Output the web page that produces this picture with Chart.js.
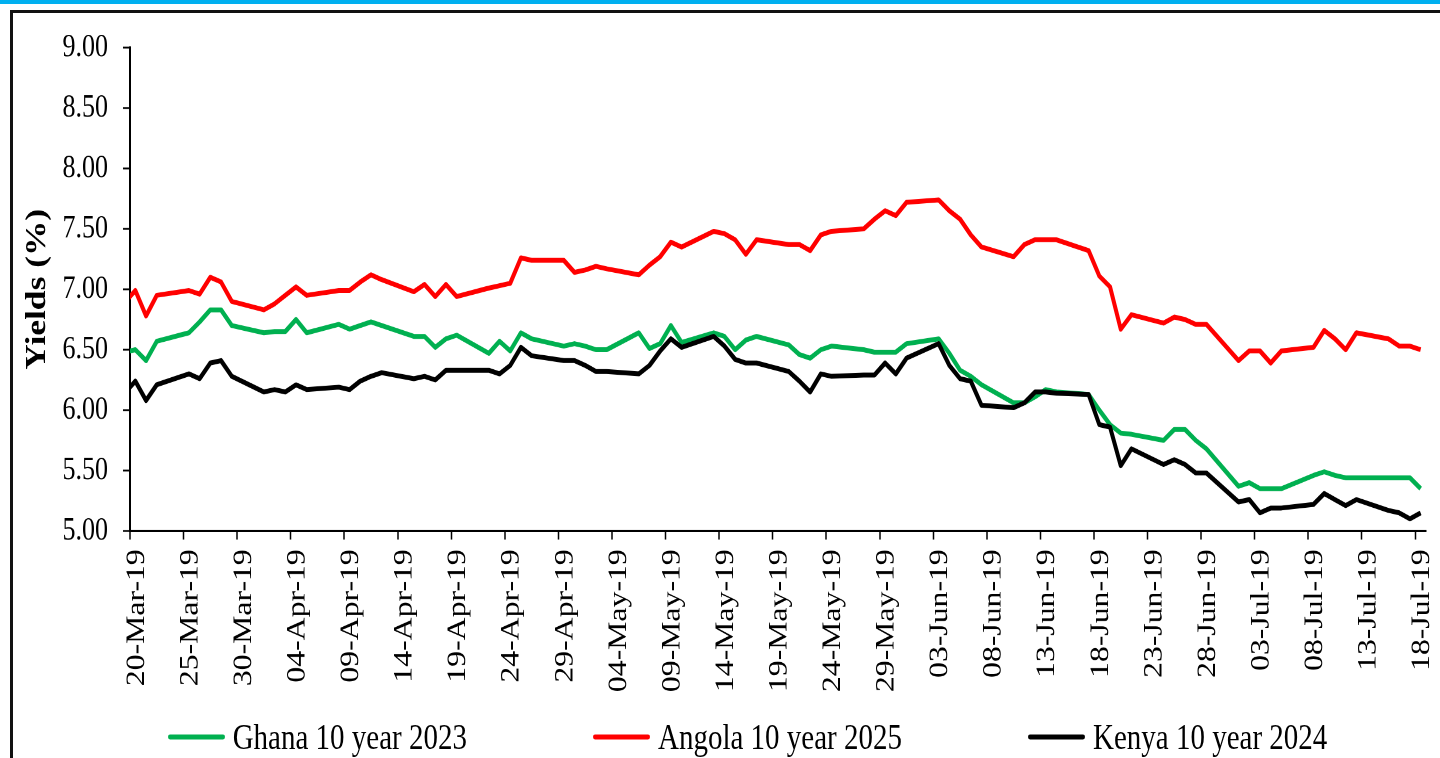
<!DOCTYPE html>
<html>
<head>
<meta charset="utf-8">
<script src="https://cdn.jsdelivr.net/npm/chart.js@4.4.1/dist/chart.umd.min.js"></script>
<style>
  html, body { margin: 0; padding: 0; width: 1440px; height: 758px; overflow: hidden; background: #fff; }
  #topbar { position: absolute; left: 0; top: 0; width: 1440px; height: 4px; background: #00b0f0; }
  #frame { position: absolute; left: 10px; top: 10px; width: 1440px; height: 760px; border-left: 3px solid #111; border-top: 3px solid #111; }
  /* the source picture is stretched vertically, so the chart is drawn short and scaled up */
  #wrap { position: absolute; left: 0; top: 0; width: 1440px; height: 621px; transform: scaleY(1.2206); transform-origin: 0 0; }
  #legend {
    position: absolute; left: 0; top: 721px; width: 1440px; height: 32px; box-sizing: border-box; padding-left: 55px;
    display: flex; justify-content: center; align-items: center; gap: 126px;
    font-family: "Liberation Serif", "Times New Roman", serif; font-size: 29px; line-height: 32px; color: #000;
    transform: scaleY(1.2206); transform-origin: 50% 50%;
  }
  #legend .item { display: flex; align-items: center; white-space: nowrap; }
  #legend .swatch { display: inline-block; width: 57px; height: 4px; border-radius: 2px; margin-right: 8px; }
</style>
</head>
<body>
<div id="topbar"></div>
<div id="frame"></div>
<div id="wrap"><canvas id="chart" width="1440" height="621"></canvas></div>
<div id="legend"></div>
<script>
var dates = [
  '2019-03-19','2019-03-20','2019-03-21','2019-03-22','2019-03-25','2019-03-26','2019-03-27','2019-03-28','2019-03-29',
  '2019-04-01','2019-04-02','2019-04-03','2019-04-04','2019-04-05','2019-04-08','2019-04-09','2019-04-10','2019-04-11','2019-04-12',
  '2019-04-15','2019-04-16','2019-04-17','2019-04-18','2019-04-19','2019-04-22','2019-04-23','2019-04-24','2019-04-25','2019-04-26',
  '2019-04-29','2019-04-30',
  '2019-05-01','2019-05-02','2019-05-03','2019-05-06','2019-05-07','2019-05-08','2019-05-09','2019-05-10','2019-05-13','2019-05-14',
  '2019-05-15','2019-05-16','2019-05-17','2019-05-20','2019-05-21','2019-05-22','2019-05-23','2019-05-24','2019-05-27','2019-05-28',
  '2019-05-29','2019-05-30','2019-05-31',
  '2019-06-03','2019-06-04','2019-06-05','2019-06-06','2019-06-07','2019-06-10','2019-06-11','2019-06-12','2019-06-13','2019-06-14',
  '2019-06-17','2019-06-18','2019-06-19','2019-06-20','2019-06-21','2019-06-24','2019-06-25','2019-06-26','2019-06-27','2019-06-28',
  '2019-07-01','2019-07-02','2019-07-03','2019-07-04','2019-07-05','2019-07-08','2019-07-09','2019-07-10','2019-07-11','2019-07-12',
  '2019-07-15','2019-07-16','2019-07-17','2019-07-18'
];

var ghana = [
  6.48, 6.50, 6.41, 6.57, 6.64, 6.73, 6.83, 6.83, 6.70,
  6.64, 6.65, 6.65, 6.75, 6.64, 6.71, 6.67, 6.70, 6.73, 6.70,
  6.61, 6.61, 6.52, 6.59, 6.62, 6.47, 6.57, 6.49, 6.64, 6.59,
  6.53, 6.55,
  6.53, 6.50, 6.50, 6.64, 6.51, 6.55, 6.70, 6.56, 6.64, 6.61,
  6.50, 6.58, 6.61, 6.54, 6.46, 6.43, 6.50, 6.53, 6.50, 6.48,
  6.48, 6.48, 6.55,
  6.59, 6.47, 6.33, 6.28, 6.21, 6.06, 6.06, 6.11, 6.17, 6.15,
  6.13, 6.00, 5.88, 5.81, 5.80, 5.75, 5.84, 5.84, 5.75, 5.68,
  5.37, 5.40, 5.35, 5.35, 5.35, 5.46, 5.49, 5.46, 5.44, 5.44,
  5.44, 5.44, 5.44, 5.35
];

var angola = [
  6.89, 6.99, 6.78, 6.95, 6.99, 6.96, 7.10, 7.06, 6.90,
  6.83, 6.88, 6.95, 7.02, 6.95, 6.99, 6.99, 7.06, 7.12, 7.08,
  6.98, 7.04, 6.94, 7.04, 6.94, 7.01, 7.03, 7.05, 7.26, 7.24,
  7.24, 7.14,
  7.16, 7.19, 7.17, 7.12, 7.20, 7.27, 7.39, 7.35, 7.48, 7.46,
  7.41, 7.29, 7.41, 7.37, 7.37, 7.32, 7.45, 7.48, 7.50, 7.58,
  7.65, 7.61, 7.72,
  7.74, 7.65, 7.58, 7.45, 7.35, 7.27, 7.37, 7.41, 7.41, 7.41,
  7.32, 7.11, 7.02, 6.67, 6.79, 6.72, 6.77, 6.75, 6.71, 6.71,
  6.41, 6.49, 6.49, 6.39, 6.49, 6.52, 6.66, 6.59, 6.50, 6.64,
  6.59, 6.53, 6.53, 6.50
];

var kenya = [
  6.14, 6.24, 6.08, 6.21, 6.30, 6.26, 6.39, 6.41, 6.28,
  6.15, 6.17, 6.15, 6.21, 6.17, 6.19, 6.17, 6.24, 6.28, 6.31,
  6.26, 6.28, 6.25, 6.33, 6.33, 6.33, 6.30, 6.37, 6.52, 6.45,
  6.41, 6.41,
  6.37, 6.32, 6.32, 6.30, 6.37, 6.49, 6.59, 6.52, 6.61, 6.53,
  6.42, 6.39, 6.39, 6.32, 6.24, 6.15, 6.30, 6.28, 6.29, 6.29,
  6.39, 6.30, 6.43,
  6.55, 6.37, 6.26, 6.24, 6.04, 6.02, 6.06, 6.15, 6.15, 6.14,
  6.13, 5.88, 5.86, 5.54, 5.68, 5.55, 5.59, 5.55, 5.48, 5.48,
  5.24, 5.26, 5.15, 5.19, 5.19, 5.22, 5.31, 5.26, 5.21, 5.26,
  5.17, 5.15, 5.10, 5.15
];

var seriesNames = ['Ghana 10 year 2023', 'Angola 10 year 2025', 'Kenya 10 year 2024'];
var seriesColors = ['#00b050', '#ff0000', '#000000'];
var yTicks = [5, 9, 0.5];       // min, max, step
var xDays = [0, 121, 5];        // days after 20-Mar-19: min, max, step

var FONT = '"Liberation Serif", "Times New Roman", serif';
var MONTHS = ['Jan','Feb','Mar','Apr','May','Jun','Jul','Aug','Sep','Oct','Nov','Dec'];
var BASE = Date.UTC(2019, 2, 20);
var DAY = 86400000;

// excel date axis puts each day's point in the middle of its day
function dayPos(s) {
  var p = s.split('-');
  return (Date.UTC(+p[0], +p[1] - 1, +p[2]) - BASE) / DAY + 0.5;
}

function dateLabel(v) {
  var d = new Date(BASE + Math.round(v) * DAY);
  var dd = d.getUTCDate();
  return (dd < 10 ? '0' + dd : dd) + '-' + MONTHS[d.getUTCMonth()] + '-' + String(d.getUTCFullYear()).slice(2);
}

function points(values) {
  var out = [];
  for (var i = 0; i < dates.length; i++) {
    out.push({ x: dayPos(dates[i]), y: values[i] });
  }
  return out;
}

var allValues = [ghana, angola, kenya];
var datasets = [];
for (var k = 0; k < allValues.length; k++) {
  datasets.push({
    label: seriesNames[k],
    data: points(allValues[k]),
    borderColor: seriesColors[k],
    backgroundColor: seriesColors[k],
    borderWidth: 4,
    borderJoinStyle: 'round',
    pointRadius: 0,
    tension: 0,
    order: 3 - k   // kenya drawn on top, as in the source
  });
}

// legend as html so the wide excel spacing can be kept
var htmlLegend = {
  id: 'htmlLegend',
  afterUpdate: function (chart) {
    var box = document.getElementById('legend');
    box.innerHTML = '';
    var items = chart.options.plugins.legend.labels.generateLabels(chart);
    items.sort(function (a, b) { return a.datasetIndex - b.datasetIndex; });
    items.forEach(function (item) {
      var el = document.createElement('div');
      el.className = 'item';
      var sw = document.createElement('span');
      sw.className = 'swatch';
      sw.style.background = item.strokeStyle;
      var txt = document.createElement('span');
      txt.textContent = item.text;
      el.appendChild(sw);
      el.appendChild(txt);
      box.appendChild(el);
    });
  }
};

new Chart(document.getElementById('chart'), {
  type: 'line',
  data: { datasets: datasets },
  plugins: [htmlLegend],
  options: {
    responsive: false,
    devicePixelRatio: 2,
    animation: false,
    layout: { padding: { left: 60, right: 14, top: 39, bottom: 0 } },
    plugins: {
      tooltip: { enabled: false },
      legend: { display: false }
    },
    scales: {
      x: {
        type: 'linear',
        min: xDays[0],
        max: xDays[1],
        afterFit: function (s) { s.height = 186; s.paddingLeft = 0; s.paddingRight = 0; },
        border: { color: '#000', width: 2 },
        grid: { drawOnChartArea: false, drawTicks: true, tickLength: 7, tickColor: '#000', tickWidth: 1.5 },
        ticks: {
          stepSize: xDays[2],
          includeBounds: false,
          autoSkip: false,
          maxRotation: 90,
          minRotation: 90,
          padding: 8,
          labelOffset: 7,
          color: '#000',
          font: { family: FONT, size: 26 },
          callback: function (v) { return dateLabel(v); }
        }
      },
      y: {
        min: yTicks[0],
        max: yTicks[1],
        afterFit: function (s) { s.width = 70; },
        border: { color: '#000', width: 2 },
        grid: { drawOnChartArea: false, tickLength: 7, tickColor: '#000', tickWidth: 1.5 },
        ticks: {
          stepSize: yTicks[2],
          padding: 15,
          color: '#000',
          font: { family: FONT, size: 26 },
          callback: function (v) { return v.toFixed(2); }
        },
        title: {
          display: true,
          text: 'Yields (%)',
          color: '#000',
          font: { family: FONT, size: 29, weight: 'bold' },
          padding: { top: -40, bottom: 0 }
        }
      }
    }
  }
});
</script>
</body>
</html>
